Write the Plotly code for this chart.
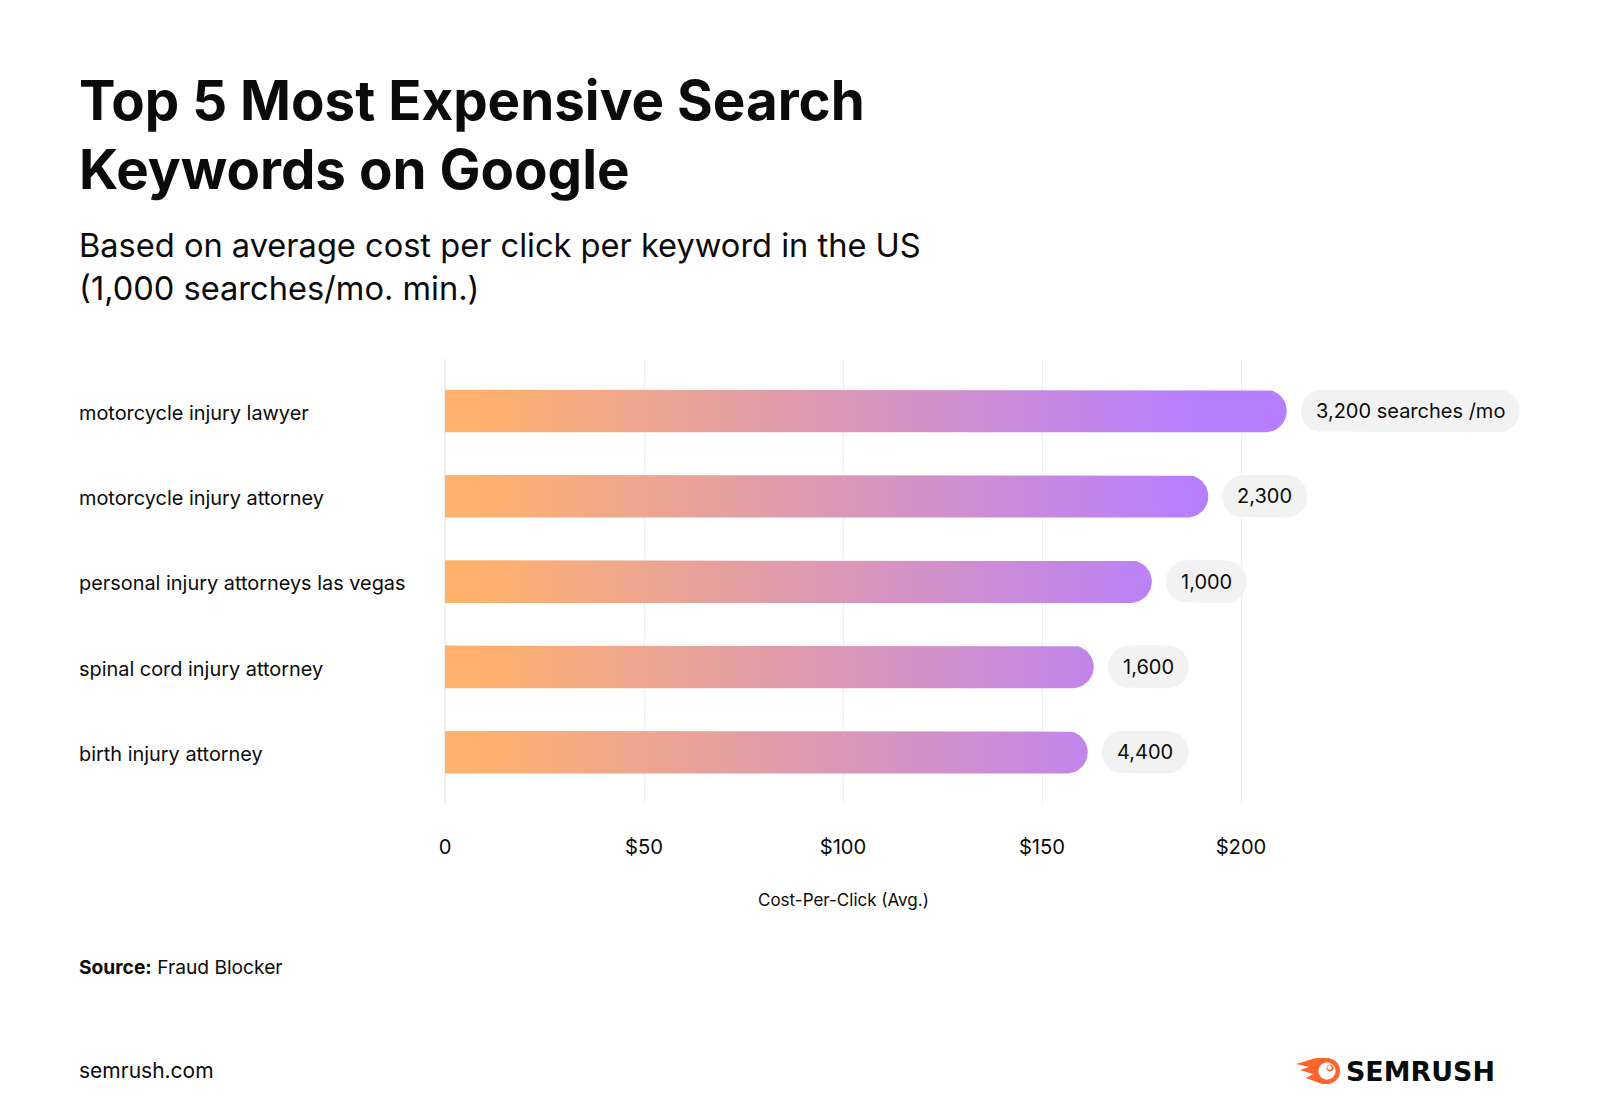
import math
import plotly.graph_objects as go

# ---- data ----
keywords = ["motorcycle injury lawyer", "motorcycle injury attorney",
            "personal injury attorneys las vegas", "spinal cord injury attorney",
            "birth injury attorney"]
cpc_values = [211.5, 191.8, 177.6, 163.0, 161.5]
search_labels = ["3,200 searches /mo", "2,300", "1,000", "1,600", "4,400"]
x_ticks = [0, 50, 100, 150, 200]
x_tick_labels = ["0", "$50", "$100", "$150", "$200"]

# ---- layout constants (pixels) ----
W, H = 1600, 1109
PLOT_L, PLOT_R, PLOT_T, PLOT_B = 445, 1560, 359, 803
PX_PER_USD = 3.98
ROW_PX = 85.3
FIRST_ROW_PX = 411
BAR_H_PX = 42.6
PILL_W_PX = [219, 85, 81, 81, 87]
PILL_GAP_PX = 14
TEXT_L = 76.5
FONT = "Inter"
INK = "#0b0b0b"

x_max = (PLOT_R - PLOT_L) / PX_PER_USD
y_top = (PLOT_T - FIRST_ROW_PX) / ROW_PX
y_bottom = (PLOT_B - FIRST_ROW_PX) / ROW_PX
rx = (BAR_H_PX / 2) / PX_PER_USD
ry = (BAR_H_PX / 2) / ROW_PX


def arc(cx, cy, a0, a1, n=24):
    return [(cx + rx * math.cos(a0 + (a1 - a0) * i / n),
             cy + ry * math.sin(a0 + (a1 - a0) * i / n)) for i in range(n + 1)]


def bar_outline(value, row):
    pts = [(0, row - ry)] + arc(value - rx, row, -math.pi / 2, math.pi / 2) + [(0, row + ry), (0, row - ry)]
    return [p[0] for p in pts], [p[1] for p in pts]


def pill_outline(x0, x1, row):
    pts = arc(x1 - rx, row, -math.pi / 2, math.pi / 2) + arc(x0 + rx, row, math.pi / 2, 3 * math.pi / 2)
    pts.append(pts[0])
    return [p[0] for p in pts], [p[1] for p in pts]


fig = go.Figure()
annotations = []


def px_x(x):
    return (x - PLOT_L) / (PLOT_R - PLOT_L)


def px_y(y):
    return (PLOT_B - y) / (PLOT_B - PLOT_T)


def page_text(text, x, y, size, weight=400, anchor="left"):
    annotations.append(dict(text=text, xref="paper", yref="paper", x=px_x(x), y=px_y(y),
                            xanchor=anchor, yanchor="middle", showarrow=False, align="left",
                            font=dict(family=FONT, size=size, color=INK, weight=weight)))


for row, (kw, val, lab, pw) in enumerate(zip(keywords, cpc_values, search_labels, PILL_W_PX)):
    bx, by = bar_outline(val, row)
    fig.add_trace(go.Scatter(
        x=bx, y=by, mode="lines", line=dict(width=0), fill="toself", name=kw, hoverinfo="skip",
        fillgradient=dict(type="horizontal", start=6, stop=188,
                          colorscale=[[0, "#FFB26B"], [1, "#B77EFF"]])))
    x0 = val + PILL_GAP_PX / PX_PER_USD
    x1 = x0 + pw / PX_PER_USD
    px, py = pill_outline(x0, x1, row)
    fig.add_trace(go.Scatter(x=px, y=py, mode="lines", line=dict(width=0), fill="toself",
                             fillcolor="#F2F2F2", name=lab, hoverinfo="skip"))
    annotations.append(dict(text=lab, x=(x0 + x1) / 2, y=row, xref="x", yref="y", showarrow=False,
                            font=dict(family=FONT, size=20, color=INK)))
    annotations.append(dict(text=kw, xref="paper", yref="y", x=px_x(TEXT_L), y=row + 0.02, xanchor="left",
                            showarrow=False, font=dict(family=FONT, size=19.9, color=INK)))

annotations.append(dict(text="Cost-Per-Click (Avg.)", x=100, xref="x", yref="paper", y=px_y(900),
                        showarrow=False, yanchor="middle",
                        font=dict(family=FONT, size=17, color=INK)))

page_text("Top 5 Most Expensive Search", TEXT_L, 100, 54.7, 700)
page_text("Keywords on Google", TEXT_L, 168.5, 54.7, 700)
page_text("Based on average cost per click per keyword in the US", TEXT_L, 245, 32.6)
page_text("(1,000 searches/mo. min.)", TEXT_L, 288, 32.6)
page_text("<b>Source:</b> Fraud Blocker", TEXT_L, 967, 19.2)
page_text("semrush.com", TEXT_L, 1070, 21)
annotations.append(dict(text="<b>SEMRUSH</b>", xref="paper", yref="paper", x=px_x(1344), y=px_y(1071),
                        xanchor="left", yanchor="middle", showarrow=False,
                        font=dict(family="DejaVu Sans", size=26.9, color=INK)))


def poly_path(points):
    return "M " + " L ".join(f"{px_x(a)} {px_y(b)}" for a, b in points) + " Z"


def circle_poly(cx, cy, r, n=40):
    return [(cx + r * math.cos(2 * math.pi * i / n), cy + r * math.sin(2 * math.pi * i / n)) for i in range(n)]


ORANGE = "#FF642D"
flame = [(1296, 1064), (1316, 1058), (1330, 1058), (1330, 1084), (1322, 1084), (1306, 1078),
         (1313, 1074), (1300, 1070), (1309, 1067)]
shapes = [
    dict(type="path", xref="paper", yref="paper", path=poly_path(flame), fillcolor=ORANGE, line_width=0),
    dict(type="path", xref="paper", yref="paper", path=poly_path(circle_poly(1327, 1071, 13)), fillcolor=ORANGE, line_width=0),
    dict(type="path", xref="paper", yref="paper", path=poly_path(circle_poly(1327, 1071, 8.5)), fillcolor="white", line_width=0),
    dict(type="path", xref="paper", yref="paper", path=poly_path(circle_poly(1330, 1068, 3.5)), fillcolor=ORANGE, line_width=0),
    dict(type="path", xref="paper", yref="paper", path=poly_path(circle_poly(1329.5, 1067.5, 2.2)), fillcolor="white", line_width=0),
]

fig.update_layout(
    width=W, height=H, showlegend=False,
    paper_bgcolor="white", plot_bgcolor="white",
    margin=dict(l=PLOT_L, r=W - PLOT_R, t=PLOT_T, b=H - PLOT_B, autoexpand=False),
    font=dict(family=FONT, color=INK),
    annotations=annotations, shapes=shapes,
    xaxis=dict(range=[0, x_max], tickvals=x_ticks, ticktext=x_tick_labels, showgrid=True,
               gridcolor="#EFEFEF", gridwidth=1, zeroline=True, zerolinecolor="#EFEFEF",
               zerolinewidth=1.5, showline=False,
               ticks="outside", ticklen=26, tickcolor="rgba(0,0,0,0)",
               tickfont=dict(family=FONT, size=20.2, color=INK)),
    yaxis=dict(range=[y_bottom, y_top], showgrid=False, zeroline=False, showline=False,
               showticklabels=False, ticks=""),
)

fig.write_html("out.html", config=dict(displayModeBar=False),
               post_script="document.body.style.margin='0';")
